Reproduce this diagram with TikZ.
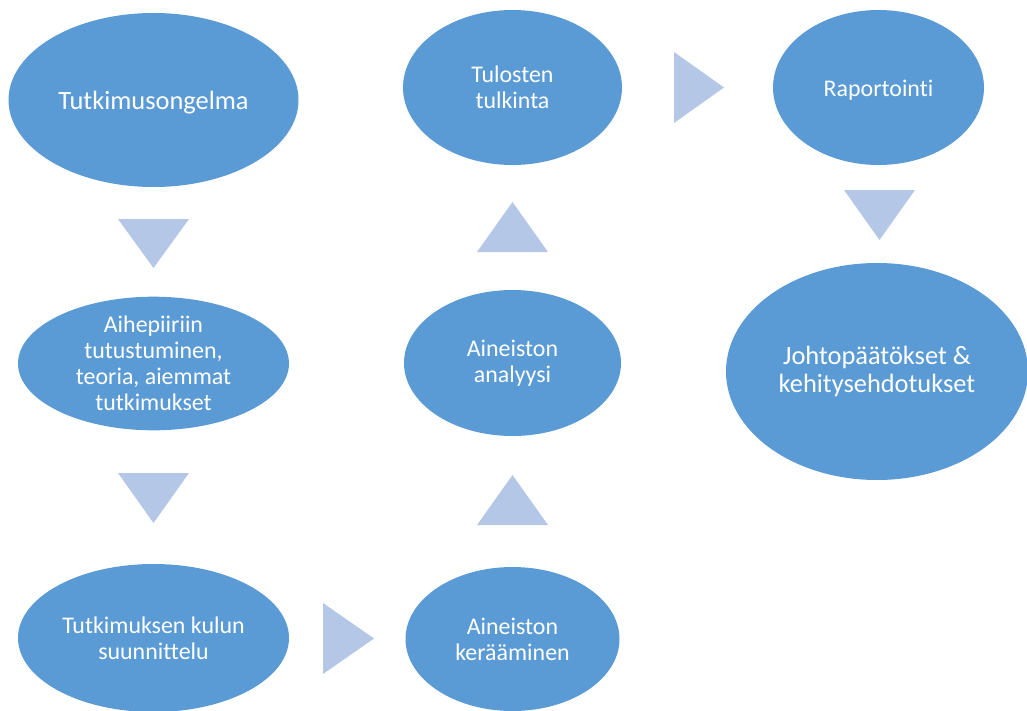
\documentclass[tikz,border=0pt]{standalone}
\usepackage{fontspec}
\setmainfont[Ligatures=NoCommon]{Carlito}
\usetikzlibrary{shapes.geometric}
\definecolor{ellblue}{HTML}{5B9BD5}
\definecolor{triblue}{HTML}{B4C7E7}
\tikzset{
  blob/.style={ellipse, fill=ellblue, draw=none, inner sep=0pt, text=white, align=center,
    font=\fontsize{24}{26}\selectfont},
  bigtext/.style={font=\fontsize{26.5}{28.5}\selectfont},
  tri/.style={fill=triblue, draw=none}
}
\newcommand{\lowertext}[1]{\raisebox{-3bp}[\height][\depth]{#1}}
\begin{document}
\begin{tikzpicture}[x=1bp,y=-1bp]
\useasboundingbox (0,0) rectangle (1027,711);
\node[blob,bigtext, minimum width=290bp, minimum height=174bp] (e1) at (153.5,100) {\lowertext{Tutkimusongelma}};
\node[blob, minimum width=271bp, minimum height=133bp] (e2) at (153.5,363.5) {Aihepiiriin\\tutustuminen,\\teoria, aiemmat\\tutkimukset};
\node[blob, minimum width=271bp, minimum height=148bp] (e3) at (153.5,638) {Tutkimuksen kulun\\suunnittelu};
\node[blob, minimum width=214bp, minimum height=144bp] (e4) at (512.5,639) {Aineiston\\kerääminen};
\node[blob, minimum width=217bp, minimum height=146bp] (e5) at (512.5,363) {Aineiston\\analyysi};
\node[blob, minimum width=219bp, minimum height=155bp] (e6) at (512.5,87.5) {Tulosten\\tulkinta};
\node[blob, minimum width=211bp, minimum height=155bp] (e7) at (878.5,87.5) {\lowertext{Raportointi}};
\node[blob,bigtext, minimum width=302bp, minimum height=217bp] (e8) at (877,371.5) {Johtopäätökset \&\\kehitysehdotukset};
% triangles
\fill[tri] (118,219) -- (189,219) -- (153.5,268) -- cycle;
\fill[tri] (118,473) -- (189,473) -- (153.5,523) -- cycle;
\fill[tri] (323,603) -- (323,674) -- (374,638.5) -- cycle;
\fill[tri] (477,525) -- (548,525) -- (512.5,475) -- cycle;
\fill[tri] (477,252) -- (548,252) -- (512.5,202) -- cycle;
\fill[tri] (674,52) -- (674,123) -- (724,87.5) -- cycle;
\fill[tri] (844,190) -- (915,190) -- (879.5,240) -- cycle;
\end{tikzpicture}
\end{document}
